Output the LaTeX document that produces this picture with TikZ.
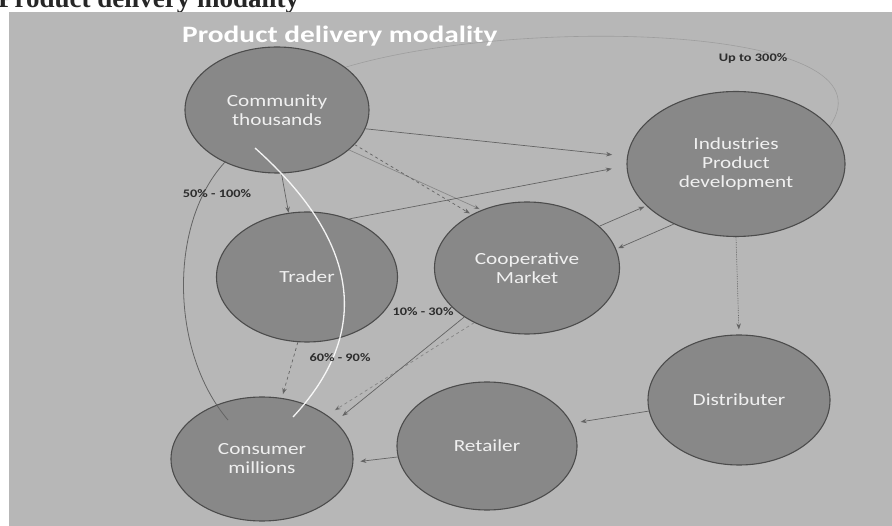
\documentclass[tikz,border=0pt]{standalone}
\usepackage{fontspec}
\newfontfamily\slidefont{Carlito}[FakeStretch=1.25]
\newfontfamily\captionfont{Liberation Serif}
\usetikzlibrary{shapes.geometric,arrows.meta}
\definecolor{slidebg}{RGB}{183,183,183}
\definecolor{bubblefill}{RGB}{136,136,136}
\definecolor{bubbleedge}{RGB}{76,76,76}
\definecolor{linkgrey}{RGB}{100,100,100}
\definecolor{labelgrey}{RGB}{45,45,45}
\definecolor{bubbletext}{RGB}{240,240,240}
\begin{document}
\begin{tikzpicture}[x=1pt,y=-1pt,
  bubble/.style={ellipse, draw=bubbleedge, line width=1.1pt, fill=bubblefill,
    inner sep=0pt, text=bubbletext, align=center,
    font=\slidefont\fontsize{17}{19}\selectfont},
  link/.style={draw=linkgrey, line width=0.7pt, -{Stealth[length=6pt,width=4.5pt]}},
  pct/.style={text=labelgrey, inner sep=0pt,
    font=\slidefont\bfseries\fontsize{11.5}{13}\selectfont}]

% page and slide background
\useasboundingbox (0,0) rectangle (892,526);
\fill[white] (0,0) rectangle (892,526);
\fill[slidebg] (9,12) rectangle (892,526);

% document heading running off the top edge
\begin{scope}
  \clip (0,0) rectangle (892,12);
  \node[anchor=base west, inner sep=0pt, text=black!85,
        font=\captionfont\bfseries\fontsize{27}{29}\selectfont]
        (heading) at (-2,8) {Product delivery modality};
\end{scope}

% slide title
\node[anchor=base west, inner sep=0pt, text=white,
      font=\slidefont\bfseries\fontsize{23.5}{26}\selectfont]
      (title) at (182,43) {Product delivery modality};

% actors
\node[bubble, minimum width=184pt, minimum height=126pt] (comm)   at (277,110) {Community\\thousands};
\node[bubble, minimum width=218pt, minimum height=145pt] (ind)    at (736,164) {Industries\\Product\\development};
\node[bubble, minimum width=181pt, minimum height=130pt] (trader) at (307,277) {Trader};
\node[bubble, minimum width=185pt, minimum height=132pt] (coop)   at (527,268) {Cooperative\\Market};
\node[bubble, minimum width=182pt, minimum height=124pt] (cons)   at (262,459) {Consumer\\millions};
\node[bubble, minimum width=180pt, minimum height=128pt] (ret)    at (487,446) {Retailer};
\node[bubble, minimum width=182pt, minimum height=130pt] (dist)   at (739,400) {Distributer};

% faint mark-up arc towards industry
\draw[draw=linkgrey, line width=0.6pt, opacity=0.3]
  (comm.32) .. controls (520,15) and (900,25) .. (ind.22);

% product flows
\draw[link, shorten >=15pt] (comm.-12) -- (ind.176);
\draw[link, dashed, shorten >=2pt] (comm.-24) -- (coop.136);
\draw[link, draw opacity=0.55, shorten >=2pt] (comm.-29) -- (coop.128);
\draw[link, shorten >=15pt] (trader.54) -- (ind.181);
\draw[link] (comm.-86) -- (trader.106);
\draw[link, shorten >=2pt] (coop.30) -- (ind.205);
\draw[link, shorten >=2pt] (ind.224) -- (coop.12);
\draw[link, densely dotted, shorten >=5pt] (ind.south) -- (dist.north);
\draw[link, shorten >=9pt] (dist.187) -- (ret.15);
\draw[link, shorten >=7pt] (ret.187) -- (cons.-2);
\draw[link, dashed, shorten >=4pt] (trader.262) -- (cons.72);
\draw[link, shorten >=9pt] (coop.218) -- (cons.27);
\draw[link, dashed, draw opacity=0.6, shorten >=9pt] (coop.226) -- (cons.34);

% direct sale from community to consumer
\coordinate (dS) at (226,161);
\coordinate (dE) at (228,420);
\draw[draw=linkgrey, line width=0.8pt] (dS) .. controls (168,222) and (170,352) .. (dE);
\coordinate (wS) at (255,148);
\coordinate (wE) at (293,417);
\draw[draw=white, line width=1.3pt, opacity=0.9] (wS) .. controls (375,255) and (360,345) .. (wE);

% margins
\node[pct] (m1) at (217,194) {50\% - 100\%};
\node[pct] (m2) at (423,312) {10\% - 30\%};
\node[pct] (m3) at (340,358) {60\% - 90\%};
\node[pct] (m4) at (753,58) {Up to 300\%};
\end{tikzpicture}
\end{document}
